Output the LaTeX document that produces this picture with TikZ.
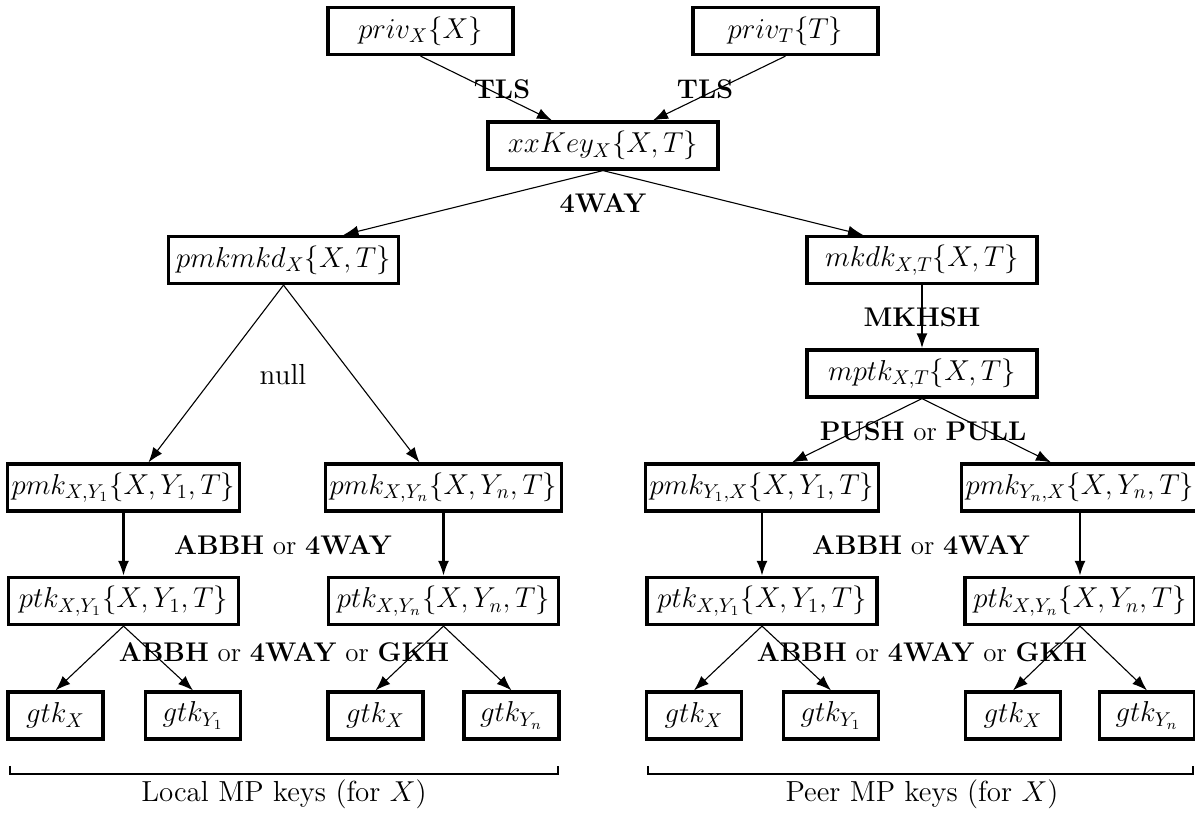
\documentclass[tikz,border=0pt]{standalone}
\usepackage{amsmath}
\usepackage{tikz}
\usetikzlibrary{arrows.meta}

\begin{document}
\begin{tikzpicture}[x=0.5pt,y=-0.5pt,
    font=\fontsize{14.5}{17}\selectfont,
    keybox/.style={draw, line width=1.6pt, minimum height=23.5pt, inner sep=2pt},
    wide/.style={keybox, minimum width=115pt},
    small/.style={keybox, minimum width=47.5pt},
    conn/.style={-{Latex[length=7.5pt,width=5.5pt]}, line width=0.55pt},
    conntk/.style={-{Latex[length=7.5pt,width=5.5pt]}, line width=1.2pt},
    lbl/.style={inner sep=1pt, font=\fontsize{13.5}{16}\selectfont},
    caption/.style={inner sep=1pt}]
        \useasboundingbox (0,0) rectangle (1195,817);
        % top of the tree
        \node[keybox, minimum width=92.5pt] (privX) at (420.5,31) {$priv_X\{X\}$};
        \node[keybox, minimum width=92.5pt] (privT) at (785.5,31) {$priv_T\{T\}$};
        \node[wide] (xx) at (603,145.5) {$xxKey_X\{X,T\}$};
        \node[wide] (pmkmkd) at (283.5,260) {$pmkmkd_X\{X,T\}$};
        \node[wide] (mkdk) at (922,260) {$mkdk_{X,T}\{X,T\}$};
        \node[wide] (mptk) at (922,373.5) {$mptk_{X,T}\{X,T\}$};
        % local and peer keys
        \node[wide] (pmkXa) at (123.5,487.5) {$pmk_{X,Y_1}\{X,Y_1,T\}$};
        \node[wide] (pmkXn) at (443.5,487.5) {$pmk_{X,Y_n}\{X,Y_n,T\}$};
        \node[wide] (pmkaX) at (762,487.5) {$pmk_{Y_1,X}\{X,Y_1,T\}$};
        \node[wide] (pmknX) at (1080,487.5) {$pmk_{Y_n,X}\{X,Y_n,T\}$};
        \node[wide] (ptkLa) at (123.5,601) {$ptk_{X,Y_1}\{X,Y_1,T\}$};
        \node[wide] (ptkLn) at (443.5,601) {$ptk_{X,Y_n}\{X,Y_n,T\}$};
        \node[wide] (ptkPa) at (762,601) {$ptk_{X,Y_1}\{X,Y_1,T\}$};
        \node[wide] (ptkPn) at (1080,601) {$ptk_{X,Y_n}\{X,Y_n,T\}$};
        \node[small] (gtkLaX) at (55.5,715.5) {$gtk_X$};
        \node[small] (gtkLaY) at (193,715.5) {$gtk_{Y_1}$};
        \node[small] (gtkLnX) at (375.5,715.5) {$gtk_X$};
        \node[small] (gtkLnY) at (511.5,715.5) {$gtk_{Y_n}$};
        \node[small] (gtkPaX) at (694,715.5) {$gtk_X$};
        \node[small] (gtkPaY) at (831,715.5) {$gtk_{Y_1}$};
        \node[small] (gtkPnX) at (1013,715.5) {$gtk_X$};
        \node[small] (gtkPnY) at (1147,715.5) {$gtk_{Y_n}$};
        % connectors
        \draw[conn] (privX.south) -- ([xshift=-25.5pt]xx.north);
        \draw[conn] (privT.south) -- ([xshift=25pt]xx.north);
        \draw[conn] (xx.south) -- ([xshift=30pt]pmkmkd.north);
        \draw[conn] (xx.south) -- ([xshift=-29.5pt]mkdk.north);
        \draw[conn] (pmkmkd.south) -- ([xshift=12.5pt]pmkXa.north);
        \draw[conn] (pmkmkd.south) -- ([xshift=-12pt]pmkXn.north);
        \draw[conntk] (mkdk) -- (mptk);
        \draw[conn] (mptk.south) -- ([xshift=15pt]pmkaX.north);
        \draw[conn] (mptk.south) -- ([xshift=-14.5pt]pmknX.north);
        \foreach \a/\b in {pmkXa/ptkLa, pmkXn/ptkLn, pmkaX/ptkPa, pmknX/ptkPn}
            \draw[conntk] (\a) -- (\b);
        \foreach \a/\b/\c in {ptkLa/gtkLaX/gtkLaY, ptkLn/gtkLnX/gtkLnY, ptkPa/gtkPaX/gtkPaY, ptkPn/gtkPnX/gtkPnY} {
            \draw[conn] (\a.south) -- (\b.north);
            \draw[conn] (\a.south) -- (\c.north);
        }
        % labels
        \node[lbl] (tlsX) at (502,89) {\textbf{TLS}};
        \node[lbl] (tlsT) at (705,89) {\textbf{TLS}};
        \node[lbl] (fourway) at (603,203) {\textbf{4WAY}};
        \node[caption] (null) at (283,375) {null};
        \node[lbl] (mkhsh) at (922,317) {\textbf{MKHSH}};
        \node[lbl] (pushpull) at (923,431) {\textbf{PUSH} or \textbf{PULL}};
        \node[lbl] (abbhL) at (283,545) {\textbf{ABBH} or \textbf{4WAY}};
        \node[lbl] (abbhP) at (921,545) {\textbf{ABBH} or \textbf{4WAY}};
        \node[lbl] (gkhL) at (284,652) {\textbf{ABBH} or \textbf{4WAY} or \textbf{GKH}};
        \node[lbl] (gkhP) at (922,652) {\textbf{ABBH} or \textbf{4WAY} or \textbf{GKH}};
        % brackets
        \draw[line width=1.2pt] (10,766) -- (10,774) -- (558,774) -- (558,766);
        \draw[line width=1.2pt] (648,766) -- (648,774) -- (1193,774) -- (1193,766);
        \node[caption] (local) at (284,794) {Local MP keys (for $X$)};
        \node[caption] (peer) at (922,794) {Peer MP keys (for $X$)};
\end{tikzpicture}
\end{document}
